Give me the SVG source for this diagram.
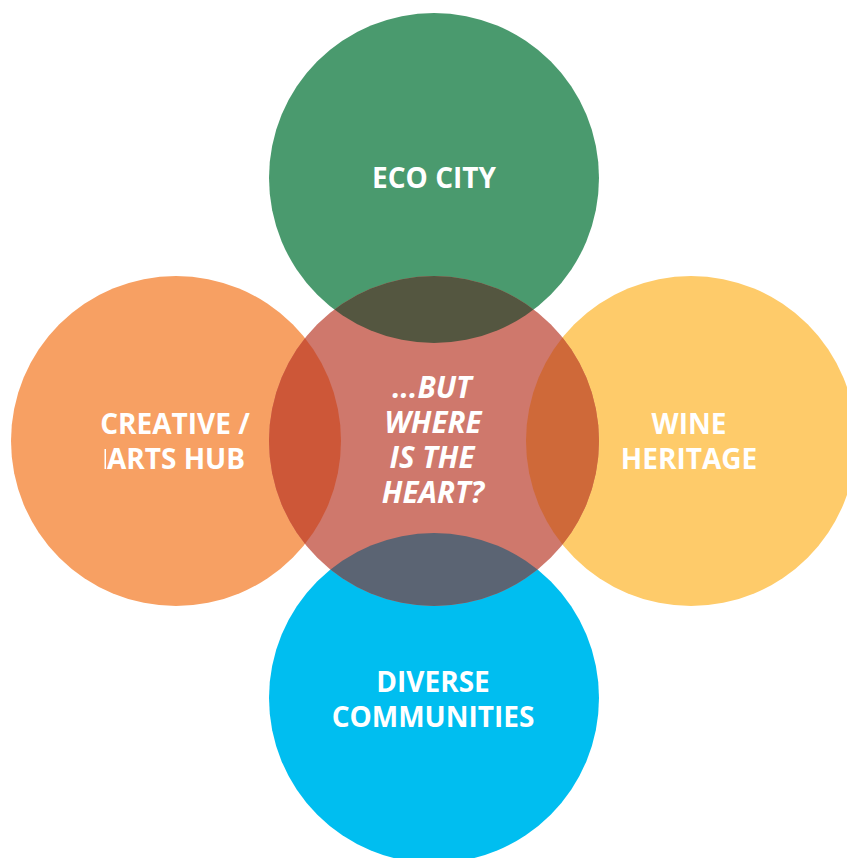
<svg xmlns="http://www.w3.org/2000/svg" width="847" height="858" viewBox="0 0 847 858">
  <style>
    .lbl { font-family: "Open Sans", "Noto Sans", "Liberation Sans", sans-serif; font-weight: 700; font-size: 28px; fill: #ffffff; text-anchor: middle; }
    .heart { font-style: italic; font-size: 29.5px; }
  </style>
  <defs>
    <clipPath id="clip-center"><circle cx="434" cy="441" r="165"/></clipPath>
  </defs>
  <rect width="847" height="858" fill="#ffffff"/>

  <g id="eco-city">
    <circle cx="434" cy="178" r="165" fill="#4A9A6E"/>
  </g>
  <g id="creative-arts">
    <circle cx="176" cy="441" r="165" fill="#F7A063"/>
  </g>
  <g id="wine-heritage">
    <circle cx="691" cy="441" r="165" fill="#FECB6A"/>
  </g>
  <g id="diverse-communities">
    <circle cx="434" cy="698" r="165" fill="#00BEF0"/>
  </g>

  <g id="heart">
    <circle cx="434" cy="441" r="165" fill="#CF786C"/>
    <!-- overlaps of the centre circle with each outer circle -->
    <g clip-path="url(#clip-center)">
      <circle cx="434" cy="178" r="165" fill="#545640"/>
      <circle cx="176" cy="441" r="165" fill="#CD5738"/>
      <circle cx="691" cy="441" r="165" fill="#CF6939"/>
      <circle cx="434" cy="698" r="165" fill="#5B6473"/>
    </g>
  </g>

  <g id="labels">
    <text class="lbl" x="434" y="188">ECO CITY</text>
    <text class="lbl" x="175" y="434">CREATIVE /</text>
    <text class="lbl" x="176" y="469">ARTS HUB</text>
    <rect x="104.5" y="449" width="1.5" height="20" fill="#ffffff"/>
    <text class="lbl" x="689" y="434">WINE</text>
    <text class="lbl" x="689" y="469">HERITAGE</text>
    <text class="lbl" x="433" y="692">DIVERSE</text>
    <text class="lbl" x="433" y="727">COMMUNITIES</text>
    <text class="lbl heart" x="432" y="398">...BUT</text>
    <text class="lbl heart" x="433" y="433">WHERE</text>
    <text class="lbl heart" x="432" y="468">IS THE</text>
    <text class="lbl heart" x="433" y="503">HEART?</text>
  </g>
</svg>
